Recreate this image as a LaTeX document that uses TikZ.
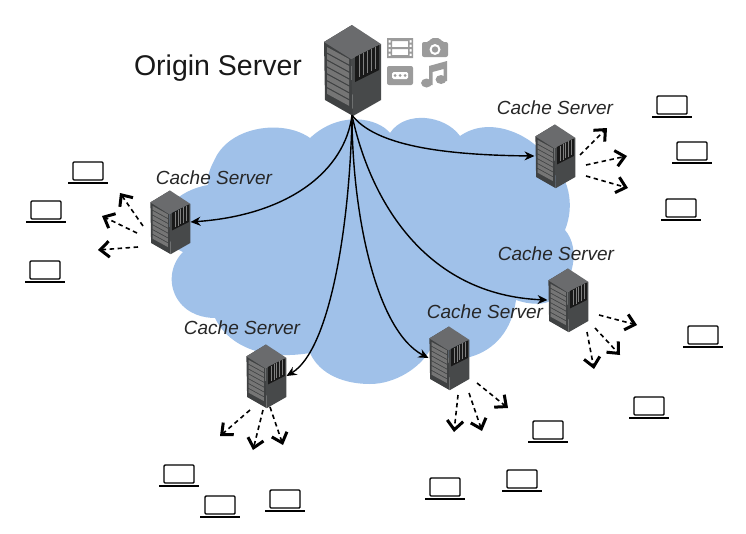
\documentclass[tikz,border=0pt]{standalone}
\usepackage{fontspec}
\setmainfont{Liberation Sans}
\usetikzlibrary{arrows.meta}
\definecolor{cloudblue}{HTML}{A0C1E9}
\definecolor{icongray}{HTML}{9B9B9B}
\definecolor{rackface}{HTML}{3F4142}
\definecolor{racktop}{HTML}{6A6B6D}
\definecolor{rackside}{HTML}{47494A}
\definecolor{rackslot}{HTML}{757575}
\tikzset{
  hub/.style={inner sep=0pt,minimum width=#1*58pt,minimum height=#1*90pt},
  feed/.style={black,line width=1.4pt,-{Stealth[length=10pt,width=9pt]}},
  client/.style={black,line width=1.6pt,dash pattern=on 4.5pt off 3.5pt,-{Straight Barb[length=9pt,width=16pt,line width=3pt]}},
  cachelabel/.style={inner sep=0pt,text=black!85,font=\fontsize{19}{22}\selectfont\itshape},
  rack/.pic={
    \fill[rackface] (0,-45) -- (-28,-28) -- (-27,30) -- (1,46) -- (-1,-11) -- cycle;
    \fill[racktop] (0,-45) -- (-28,-28) -- (-1,-11) -- (29,-26) -- cycle;
    \fill[rackside] (29,-26) -- (-1,-11) -- (1,46) -- (29,30) -- cycle;
    \fill[black!90] (3,-13) -- (27,-25) -- (27,0) -- (3,12) -- cycle;
    \foreach \v in {7,11,...,23}
      \draw[gray,very thin] (\v,{-16-(\v-3)/2+3}) -- (\v,{9-(\v-3)/2});
    \foreach \k in {0,...,6}
      \fill[rackslot] (-25,{-23+\k*6.9}) -- (-3,{-11+\k*6.9}) -- (-3,{-11+\k*6.9+5.4}) -- (-25,{-23+\k*6.9+5.4}) -- cycle;
  },
  notebook/.pic={
    \draw[black,line width=1.4pt,rounded corners=1pt] (-15,8) -- (-15,-10) -- (15,-10) -- (15,8) -- cycle;
    \draw[black,line width=2pt] (-20,11) -- (20,11);
  }
}
\begin{document}
\begin{tikzpicture}[x=1pt,y=-1pt]
\useasboundingbox (0,0) rectangle (746,533);

% cloud, one lobe at a time
\fill[cloudblue] (310,138)
  .. controls (285,120) and (235,125) .. (217,155)
  .. controls (210,168) and (207,175) .. (208,185)
  .. controls (190,188) and (165,200) .. (165,222)
  .. controls (165,235) and (172,248) .. (183,252)
  .. controls (170,265) and (168,285) .. (178,300)
  .. controls (188,315) and (205,318) .. (215,318)
  .. controls (225,340) and (255,362) .. (310,353)
  .. controls (320,375) and (345,384) .. (370,384)
  .. controls (395,384) and (420,368) .. (430,350)
  .. controls (450,362) and (460,358) .. (470,357)
  .. controls (495,350) and (512,330) .. (516,300)
  .. controls (530,305) and (545,305) .. (552,300)
  .. controls (572,285) and (582,250) .. (565,230)
  .. controls (575,205) and (570,175) .. (545,155)
  .. controls (530,135) and (490,115) .. (460,136)
  .. controls (445,115) and (405,110) .. (390,133)
  .. controls (378,118) and (340,110) .. (310,138)
  -- cycle;

% servers
\node[hub=1] (origin) at (352,70) {};
\node[hub=0.7] (cacheleft) at (170,222) {};
\node[hub=0.7] (cachetop) at (555,156) {};
\node[hub=0.7] (cacheright) at (568,300) {};
\node[hub=0.7] (cachemid) at (449,358) {};
\node[hub=0.7] (cachelow) at (266,376) {};
\pic at (origin) {rack};
\foreach \c in {cacheleft,cachetop,cacheright,cachemid,cachelow}
  \pic[scale=0.7] at (\c) {rack};

% icons next to the origin
\fill[icongray,even odd rule] (387,38) rectangle (413,58)
  (392,41) rectangle (408,47) (392,49) rectangle (408,55)
  \foreach \y in {40,44.5,49,53.5} {(388.5,\y) rectangle (390.5,\y+2.5) (409.5,\y) rectangle (411.5,\y+2.5)};
\fill[icongray,rounded corners=2pt] (422,42) -- (429,42) -- (431,38) -- (440,38) -- (442,42) -- (448,42) -- (448,57) -- (422,57) -- cycle;
\fill[white] (435,49.5) circle (5.5);
\fill[icongray] (435,49.5) circle (3.2);
\fill[icongray,rounded corners=2pt] (387,66) rectangle (413,85);
\fill[white,rounded corners=1.5pt] (392,72) rectangle (408,79);
\fill[icongray] (395,75.5) circle (1.5) (400,75.5) circle (1.5) (405,75.5) circle (1.5);
\fill[icongray] (429,66) -- (447,61) -- (447,81) -- (443.5,81) -- (443.5,69) -- (432.5,72) -- (432.5,85) -- (429,85) -- cycle;
\fill[icongray] (426.5,83) ellipse (5.5 and 4.5);
\fill[icongray] (441,79.5) ellipse (5.5 and 4.5);

% origin to caches
\draw[feed] (origin.south) .. controls (375,145) and (440,155) .. (cachetop.west);
\draw[feed] (origin.south) .. controls (345,170) and (290,215) .. (cacheleft.east);
\draw[feed] (origin.south) .. controls (370,200) and (425,295) .. (cacheright.west);
\draw[feed] (origin.south) .. controls (352,210) and (375,330) .. (cachemid.west);
\draw[feed] (origin.south) .. controls (350,225) and (330,350) .. (cachelow.east);

% dashed links out to the clients
\foreach \i/\a/\b/\p/\q in {
  1/143/226/120/193, 2/137/233/102/216, 3/138/247/98/250,
  4/580/155/607/128, 5/586/165/627/156, 6/586/176/628/188,
  7/599/315/637/325, 8/595/328/620/355, 9/587/332/594/369,
  10/477/383/508/408, 11/469/393/482/431, 12/458/395/454/432,
  13/250/410/220/436, 14/263/410/253/450, 15/270/407/283/445} {
  \coordinate (from\i) at (\a,\b);
  \coordinate (to\i) at (\p,\q);
  \draw[client] (from\i) -- (to\i);
}

% laptops
\foreach \x/\y in {88/172, 46/211, 45/271, 672/106, 692/152, 681/209, 703/336,
  649/407, 548/431, 522/480, 445/488, 179/475, 220/506, 285/500}
  \pic at (\x,\y) {notebook};

% labels
\node[inner sep=0pt,text=black!90,font=\fontsize{28.5}{32}\selectfont] (originlabel) at (218,68) {Origin Server};
\node[cachelabel] (labelleft) at (214,178) {Cache Server};
\node[cachelabel] (labeltop) at (555,108) {Cache Server};
\node[cachelabel] (labelright) at (556,254) {Cache Server};
\node[cachelabel] (labelmid) at (485,312) {Cache Server};
\node[cachelabel] (labellow) at (242,328) {Cache Server};
\end{tikzpicture}
\end{document}
